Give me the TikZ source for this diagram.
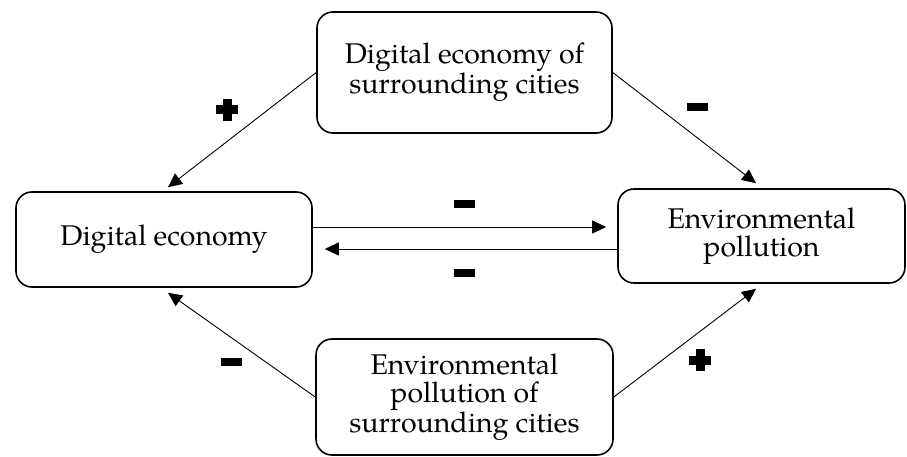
\documentclass[tikz,border=0pt]{standalone}
\usepackage{fontspec}
\setmainfont{texgyrepagella-regular.otf}
\usetikzlibrary{arrows.meta,calc}
\begin{document}
\begin{tikzpicture}[x=1pt,y=-1pt,
  box/.style={draw, line width=1.6pt, rounded corners=16pt, align=center,
    font=\fontsize{28.5}{28}\selectfont, inner sep=0pt},
  link/.style={line width=0.9pt, -{Triangle[length=14pt,width=13pt]}},
  minussign/.pic={\fill (-10.5,-4) rectangle (10.5,4);},
  plussign/.pic={\fill (-11,-4.5) rectangle (11,4.5); \fill (-4.5,-11) rectangle (4.5,11);}
]
\useasboundingbox (0,0) rectangle (907,457);

% boxes
\node[box, minimum width=295pt, minimum height=121pt] (top) at (464.5,72.5)
  {Digital economy of\\surrounding cities};
\node[box, minimum width=296pt, minimum height=95pt] (left) at (164,239.5)
  {Digital economy};
\node[box, minimum width=287pt, minimum height=94pt] (right) at (761.5,236)
  {Environmental\\pollution};
\node[box, minimum width=297pt, minimum height=116pt] (bottom) at (464.5,397)
  {Environmental\\pollution of\\surrounding cities};

% spillover links
\draw[link] (top.west) -- ($(left.north)+(4,-4)$);
\draw[link] (top.east) -- ($(right.north)+(-5.5,-5)$);
\draw[link] (bottom.west) -- ($(left.south)+(4,5)$);
\draw[link] (bottom.east) -- ($(right.south)+(-5.5,5)$);

% mutual links
\draw[link] ($(left.east)+(0,-12.5)$) -- ($(right.west)+(-11,-9)$);
\draw[link] ($(right.west)+(0,13)$) -- ($(left.east)+(12,9.5)$);

% signs
\pic at (227,110) {plussign};
\pic at (697,107) {minussign};
\pic at (464,204) {minussign};
\pic at (464,273) {minussign};
\pic at (231,362) {minussign};
\pic at (700,360) {plussign};
\end{tikzpicture}
\end{document}
